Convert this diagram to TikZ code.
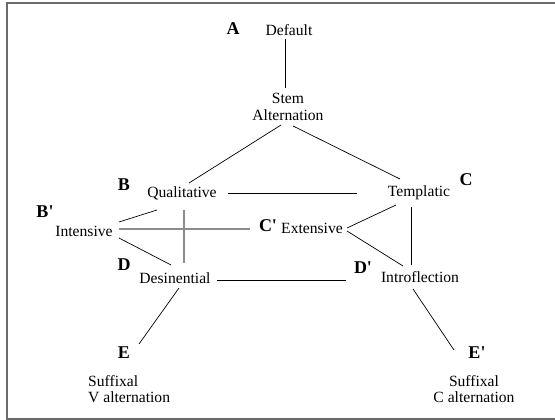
\documentclass[tikz,border=0pt]{standalone}
\usepackage{fontspec}
\setmainfont{Liberation Serif}
\usetikzlibrary{positioning}
\definecolor{Frame}{HTML}{6a6a6a}
\definecolor{Pale}{HTML}{8c8c8c}

\begin{document}
\begin{tikzpicture}[
        x=1pt,y=-1pt,
        %Environment Styles.
        term/.style={
            inner sep=0pt,
            font=\fontsize{15.6}{16.5}\selectfont,
            align=center
        },
        tag/.style={
            inner sep=0pt,
            font=\fontsize{18}{20}\selectfont\bfseries
        },
        link/.style={black, line width=0.7pt},
        plink/.style={Pale, line width=1.2pt},
    ]
    \useasboundingbox (0,0) rectangle (555,420);
    %frame, open on the right
    \draw[Frame, line width=1.6pt] (556,3) -- (7,3) -- (7,419) -- (556,419);

    %terms
    \node[term] (DEF) at (289,30) {Default};
    \node[term] (STEM) at (288,107) {Stem\\Alternation};
    \node[term] (QUAL) at (182,193) {Qualitative};
    \node[term] (TEMP) at (419,193) {Templatic};
    \node[term] (INT) at (84,231) {Intensive};
    \node[term] (EXT) at (312,228) {Extensive};
    \node[term] (DES) at (175,278) {Desinential};
    \node[term] (INTRO) at (420,277) {Introflection};
    \node[term, align=left, anchor=west] (SUFV) at (88,389) {Suffixal\\V alternation};
    \node[term] (SUFC) at (474,389) {Suffixal\\C alternation};

    %letters
    \node[tag] (L-A) at (233,29) {A};
    \node[tag] (L-B) at (124,185) {B};
    \node[tag] (L-C) at (466,180) {C};
    \node[tag] (L-B1) at (45,212) {B\textquotesingle};
    \node[tag] (L-C1) at (268,226) {C\textquotesingle};
    \node[tag] (L-D) at (124,265) {D};
    \node[tag] (L-D1) at (363,268) {D\textquotesingle};
    \node[tag] (L-E) at (124,353) {E};
    \node[tag] (L-E1) at (477,353) {E\textquotesingle};

    %connectors
    \draw[link] ([shift={(-4,9)}]DEF.center) -- ([shift={(-3,-19)}]STEM.center);
    \draw[link] ([shift={(-7,18)}]STEM.center) -- ([shift={(7,-10)}]QUAL.center);
    \draw[link] ([shift={(5,19)}]STEM.center) -- ([shift={(-19,-14)}]TEMP.center);
    \draw[link] ([shift={(46,0)}]QUAL.center) -- ([shift={(-62,0)}]TEMP.center);
    \draw[link] ([shift={(-25,17)}]QUAL.center) -- ([shift={(35,-9)}]INT.center);
    \draw[plink] ([shift={(2,17)}]QUAL.center) -- ([shift={(9,-15)}]DES.center);
    \draw[plink] ([shift={(35,-2)}]INT.center) -- ([shift={(-18,3)}]L-C1.center);
    \draw[link] ([shift={(35,7)}]INT.center) -- ([shift={(-4,-13)}]DES.center);
    \draw[link] ([shift={(-23,12)}]TEMP.center) -- ([shift={(35,0)}]EXT.center);
    \draw[link] ([shift={(-8,14)}]TEMP.center) -- ([shift={(-9,-12)}]INTRO.center);
    \draw[link] ([shift={(35,3)}]EXT.center) -- ([shift={(-17,-11)}]INTRO.center);
    \draw[link] ([shift={(42,2)}]DES.center) -- ([shift={(-74,3)}]INTRO.center);
    \draw[link] ([shift={(4,10)}]DES.center) -- ([shift={(15,-9)}]L-E.center);
    \draw[link] ([shift={(-7,12)}]INTRO.center) -- ([shift={(-23,-3)}]L-E1.center);
\end{tikzpicture}
\end{document}
